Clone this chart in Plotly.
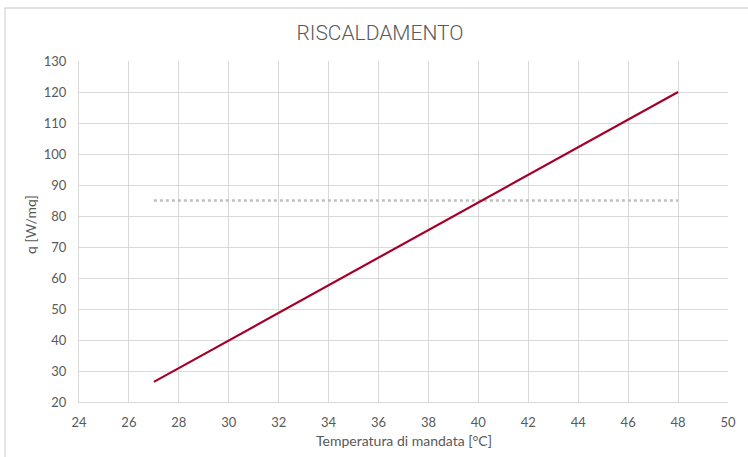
import plotly.graph_objects as go

# Heating curve: specific heat output vs supply temperature
temp_mandata = [27, 48]
q_riscaldamento = [26.5, 120]

# Reference level for required heat output
temp_riferimento = [27, 48]
q_riferimento = [85, 85]

x_ticks = list(range(24, 51, 2))
y_ticks = list(range(20, 131, 10))

grid_col = "#d9d9d9"
text_col = "#595959"

# plot area size in pixels (used to place titles/frame in paper units)
PW, PH = 649, 341

fig = go.Figure()
fig.add_trace(go.Scatter(
    x=temp_riferimento, y=q_riferimento, mode="lines",
    line=dict(color="#bfbfbf", width=2.5, dash="dot"),
    showlegend=False, hoverinfo="skip",
))
fig.add_trace(go.Scatter(
    x=temp_mandata, y=q_riscaldamento, mode="lines",
    line=dict(color="#a5002a", width=2.2),
    showlegend=False,
))

fig.update_layout(
    width=748, height=457,
    margin=dict(l=79, r=20, t=61, b=55),
    paper_bgcolor="white", plot_bgcolor="white",
    font=dict(family="Lato, Liberation Sans, sans-serif", color=text_col, size=13),
    title=dict(
        text="RISCALDAMENTO",
        x=380 / 748, xanchor="center", xref="container",
        y=1 - 33 / 457, yanchor="middle",
        font=dict(family="Roboto", size=21, color=text_col, weight=300),
    ),
    xaxis=dict(
        range=[24, 50], tickvals=x_ticks, ticktext=[str(v) for v in x_ticks],
        showgrid=True, gridcolor=grid_col, gridwidth=1.3,
        showline=True, linecolor=grid_col, linewidth=1.3,
        zeroline=False, ticks="", ticklen=0, ticklabelstandoff=8,
        automargin=False,
        tickfont=dict(size=13, color=text_col),
    ),
    yaxis=dict(
        range=[20, 130], tickvals=y_ticks, ticktext=[str(v) for v in y_ticks],
        showgrid=True, gridcolor=grid_col, gridwidth=1.3,
        showline=True, linecolor=grid_col, linewidth=1.3,
        zeroline=False, ticks="", ticklen=0, ticklabelstandoff=9,
        automargin=False,
        tickfont=dict(size=13, color=text_col),
    ),
)

# Axis titles
fig.add_annotation(
    text="Temperatura di mandata [°C]", xref="paper", yref="paper",
    x=0.5, y=-(441 - 402) / PH, xanchor="center", yanchor="middle",
    showarrow=False, font=dict(size=14, color=text_col),
)
fig.add_annotation(
    text="q [W/mq]", xref="paper", yref="paper",
    x=(30 - 79) / PW, y=(402 - 225) / PH, xanchor="center", yanchor="middle",
    textangle=-90, showarrow=False, font=dict(size=14, color=text_col),
)

# Outer chart frame (partially outside the page on the right and bottom)
fig.add_shape(
    type="rect", xref="paper", yref="paper",
    x0=-74 / PW, x1=1 + 40 / PW,
    y0=-80 / PH, y1=1 + 53 / PH,
    line=dict(color="#d9d9d9", width=1.3), layer="below",
)

fig.write_html("out.html")
